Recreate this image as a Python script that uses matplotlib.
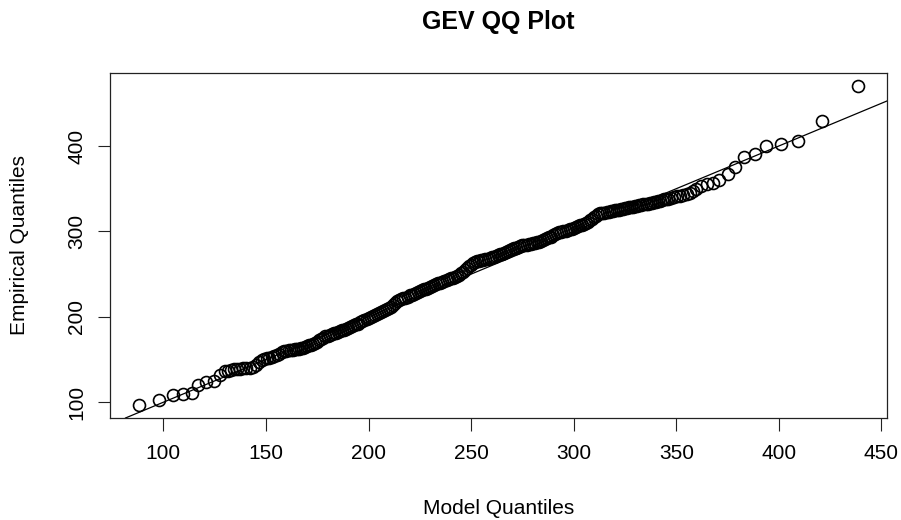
import matplotlib
matplotlib.use("Agg")
import matplotlib.pyplot as plt

plt.rcParams["font.family"] = ["Liberation Sans", "DejaVu Sans"]

# model (fitted GEV) quantiles against sorted observations
model_q = [
    88, 98, 104.5, 109.5, 114, 117, 121, 124.5, 127.5, 130,
    131.5, 133, 134.5, 136, 137.5, 139, 140.5, 142, 143.5, 145, 146.5,
    148, 149.2, 150.4, 151.6, 152.8, 154, 155.2, 156.4, 157.6, 158.8,
    160, 161, 162, 163, 164, 165, 166, 167, 168, 169, 170, 171, 172, 173, 174,
    175, 176, 177, 178, 179, 180, 181, 182, 183, 184, 185, 186, 187, 188, 189,
    190, 191, 192, 193, 194, 195, 196, 197, 198, 199, 200, 201, 202, 203, 204,
    205, 206, 207, 208,
    209, 210, 211, 212, 213, 214, 215, 216, 217, 218, 219, 220, 221, 222, 223,
    224, 225, 226, 227, 228, 229, 230, 231, 232, 233, 234, 235, 236, 237, 238,
    239, 240, 241, 242, 243, 244, 245, 246, 247, 248, 249, 250, 251, 252, 253,
    254, 255, 256, 257, 258, 259, 260,
    261, 262, 263, 264, 265, 266, 267, 268, 269, 270, 271, 272, 273, 274, 275,
    276, 277, 278, 279, 280, 281, 282, 283, 284, 285, 286, 287, 288, 289, 290,
    291, 292, 293, 294, 295, 296, 297, 298, 299, 300, 301, 302, 303, 304, 305,
    306, 307, 308, 309, 310,
    311, 312, 313, 314, 315, 316, 317, 318, 319, 320, 321, 322, 323, 324, 325,
    326, 327, 328, 329, 330, 331, 332, 333, 334, 335, 336, 337, 338, 339, 340,
    341, 342, 343, 344, 345, 346,
    347.5, 349, 350.5, 352, 353.5, 355, 356.5, 358, 359.5,
    362, 365, 368, 371, 375, 378.7, 383, 388.4, 393.7, 401, 409.5, 421, 438.7,
]

empirical_q = [
    96.5, 102.5, 108, 110, 111, 120.5, 123.5, 124.5, 132, 136,
    137, 138, 138.5, 139, 139, 139.5, 140, 140.5, 141.5, 143, 147,
    149, 150.5, 151.5, 152, 153, 154, 155.5, 157, 158.5, 160,
    160.5, 161, 161, 161.5, 162, 162, 162.5, 163, 163.5, 164.5, 165.5, 166.5,
    167.5, 168.5, 169.5,
    171, 172.5, 174, 175.5, 177, 178, 179, 180, 181, 181.5, 182.5, 183, 184,
    185, 186, 187, 188, 189, 190, 191, 192, 193.5, 195, 196, 197.5, 198.5, 200,
    201, 202, 203.5, 204.5, 206, 207, 208,
    209, 210, 211.5, 213.5, 216, 218.5, 220, 221, 221.5, 222.5, 223.5, 225, 226,
    227, 228, 229, 230.5, 231.5, 232.5, 233, 234, 235, 236, 237, 238, 239, 240,
    241, 242, 243, 244, 245, 246, 247, 248, 249.5, 251, 253, 255, 257, 259, 261,
    262.5, 264, 265, 265.5, 266, 266.5, 267.5, 268, 269, 269.5,
    270.5, 271, 272, 273, 274, 275, 276, 277, 278, 279.5, 280.5, 281, 282, 282.5,
    283.5, 284, 284.5, 285, 285.5, 286, 287, 287.5, 288, 289, 290, 291, 292, 293,
    294, 295.5, 296.5, 298, 299, 299.5, 300, 301, 302, 302.5, 303, 304, 305, 306,
    307, 308, 309, 310, 311.5, 313, 315, 317,
    318.5, 320, 321, 321.5, 322, 322.5, 323, 323.5, 324, 324.5, 325, 325.5, 326,
    326.5, 327, 327.5, 328, 328.5, 329, 329.5, 330, 330.5, 331, 331.5, 332, 332.5,
    333, 333.5, 334, 335, 335.5, 336, 337, 337.5, 338, 338.5,
    339.5, 340.5, 341, 342, 343, 344, 345.5, 347, 349.5,
    353, 355.5, 356.5, 360.5, 367.5, 375.5, 387, 391, 400.5, 402.5, 405.5, 429.5,
    470.5,
]

x_ticks = [100, 150, 200, 250, 300, 350, 400, 450]
y_ticks = [100, 200, 300, 400]

fig = plt.figure(figsize=(9.01, 5.2), dpi=100)
ax = fig.add_axes([0.1221, 0.1962, 0.8624, 0.6634])

ax.plot(model_q, empirical_q, "o", mfc="none", mec="black", ms=8.6, mew=1.2)
# R-style 4% padding around the data, then freeze it before the 1:1 line
ax.margins(0.04)
ax.autoscale_view()
xlim, ylim = ax.get_xlim(), ax.get_ylim()
ax.axline((0, 0), slope=1, color="black", lw=0.9)
ax.set_xlim(xlim)
ax.set_ylim(ylim)

ax.set_xticks(x_ticks)
ax.set_yticks(y_ticks)
ax.tick_params(axis="both", length=9, width=0.8, labelsize=15, color="#222222")
ax.tick_params(axis="x", pad=10)
ax.tick_params(axis="y", pad=8, labelrotation=90)
for lab in ax.get_yticklabels():
    lab.set_verticalalignment("center")
for sp in ax.spines.values():
    sp.set_linewidth(0.9)
    sp.set_color("#222222")

ax.set_xlabel("Model Quantiles", fontsize=15, va="center")
ax.xaxis.set_label_coords(0.5, -0.261)
ax.set_ylabel("Empirical Quantiles", fontsize=15, va="center")
ax.yaxis.set_label_coords(-0.116, 0.5)

fig.text(0.5533, 0.958, "GEV QQ Plot", fontsize=18, fontweight="bold",
         ha="center", va="center")

fig.savefig("out.png", dpi=100)
